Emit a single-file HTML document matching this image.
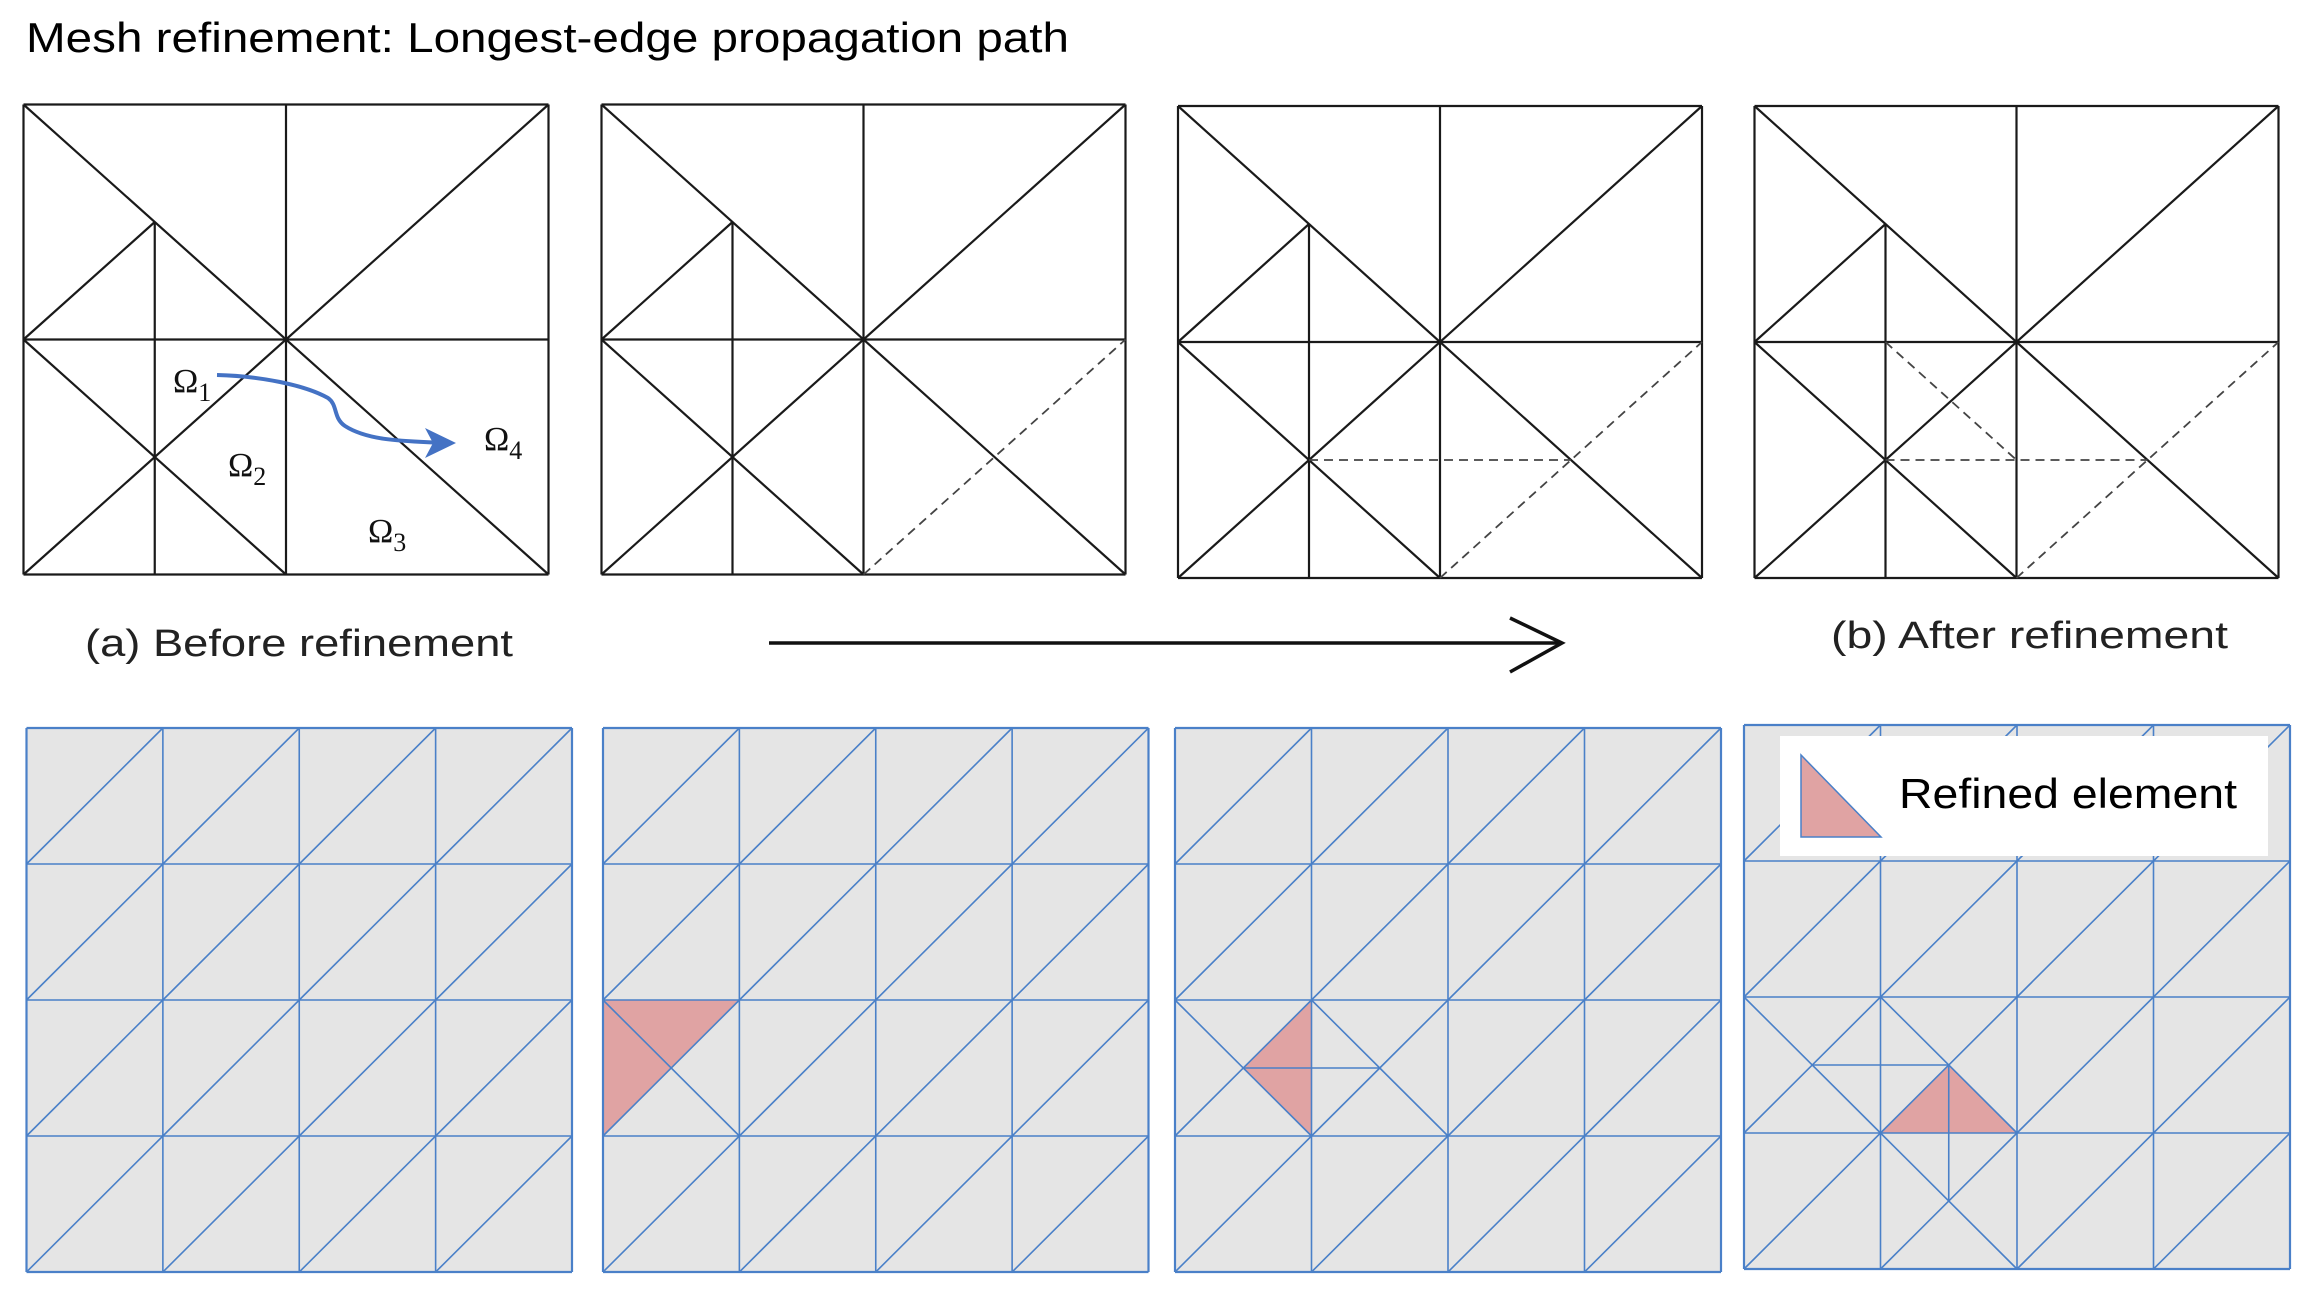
<!DOCTYPE html>
<html><head><meta charset="utf-8"><style>
html,body{margin:0;padding:0;background:#fff;}
svg{display:block;}
</style></head><body>
<svg id="fig" width="2306" height="1296" viewBox="0 0 2306 1296" xmlns="http://www.w3.org/2000/svg">
<text x="26" y="52" font-family="Liberation Sans, sans-serif" font-size="42" textLength="1043" lengthAdjust="spacingAndGlyphs" fill="#000">Mesh refinement: Longest-edge propagation path</text>
<g id="top"></g>
<g id="bottom"></g>
<g font-family="Liberation Serif, serif" fill="#111">
<text x="173" y="392" font-size="34">Ω<tspan font-size="26" dy="9">1</tspan></text>
<text x="228" y="476" font-size="34">Ω<tspan font-size="26" dy="9">2</tspan></text>
<text x="368" y="542" font-size="34">Ω<tspan font-size="26" dy="9">3</tspan></text>
<text x="484" y="450" font-size="34">Ω<tspan font-size="26" dy="9">4</tspan></text>
</g>
<path d="M217,375 C260,376 305,385 328,398 C338,405 333,418 345,426 C370,442 410,441 445,443" fill="none" stroke="#4472c4" stroke-width="4"/>
<path d="M456,443 L425,428 L433,443 L425,458 Z" fill="#4472c4"/>
<text x="85" y="656" font-family="Liberation Sans, sans-serif" font-size="38" textLength="428" lengthAdjust="spacingAndGlyphs" fill="#222">(a) Before refinement</text>
<text x="1831" y="648" font-family="Liberation Sans, sans-serif" font-size="38" textLength="397" lengthAdjust="spacingAndGlyphs" fill="#222">(b) After refinement</text>
<g stroke="#111" stroke-width="3.5" fill="none">
<line x1="769" y1="643" x2="1561" y2="643"/>
<polyline points="1510,618 1562,643 1510,672"/>
</g>
<g id="legend">
<rect x="1780" y="736" width="488" height="120" fill="#fff"/>
<polygon points="1801,755 1801,837 1881,837" fill="#e0a3a3" stroke="#4a80c8" stroke-width="1.5"/>
<text x="1899" y="808" font-family="Liberation Sans, sans-serif" font-size="42" textLength="338" lengthAdjust="spacingAndGlyphs" fill="#000">Refined element</text>
</g>
</svg>
<script>
const NS='http://www.w3.org/2000/svg';
const topPanels=[[23.5,104.5,525,470],[601.5,104.5,524,470],[1178,106,524,472],[1754.5,106,524,472]];
const topBase=[[0,0,1,0],[1,0,1,1],[1,1,0,1],[0,1,0,0],[0.5,0,0.5,1],[0,0.5,1,0.5],[0,0,1,1],[1,0,0,1],[0.25,0.25,0.25,1],[0,0.5,0.25,0.25],[0,0.5,0.5,1]];
const topDashed=[[],[[0.5,1,1,0.5]],[[0.5,1,1,0.5],[0.25,0.75,0.75,0.75]],[[0.5,1,1,0.5],[0.25,0.75,0.75,0.75],[0.25,0.5,0.5,0.75]]];
function mk(tag,attrs,parent){const e=document.createElementNS(NS,tag);for(const k in attrs)e.setAttribute(k,attrs[k]);parent.appendChild(e);return e;}
const topG=document.getElementById('top');
topPanels.forEach((p,i)=>{
 const g=mk('g',{},topG);
 
 
 const X=u=>p[0]+u*p[2],Y=v=>p[1]+v*p[3];
 topBase.forEach(s=>{const l=mk('line',{x1:X(s[0]),y1:Y(s[1]),x2:X(s[2]),y2:Y(s[3]),stroke:'#1a1a1a','stroke-width':2.2},g);
  
  });
 topDashed[i].forEach(s=>{const l=mk('line',{x1:X(s[0]),y1:Y(s[1]),x2:X(s[2]),y2:Y(s[3]),stroke:'#444','stroke-width':1.8,'stroke-dasharray':'9,6'},g);
  
  });
});
const botPanels=[[26.5,728,545.5,544],[603,728,545.5,544],[1175,728,546,544],[1744,725,546,544]];
const botExtra=[[],[[0,2,1,3]],[[0,2,1,3],[1,2,2,3],[0.5,2.5,1.5,2.5]],[[0,2,1,3],[1,2,2,3],[0.5,2.5,1.5,2.5],[1.5,2.5,1.5,3.5],[1,3,2,4]]];
const botRed=[null,[0,2,1,2,0,3],[1,2,0.5,2.5,1,3],[1,3,1.5,2.5,2,3]];
const botG=document.getElementById('bottom');
botPanels.forEach((p,i)=>{
 const g=mk('g',{},botG);
 
 
 const X=u=>p[0]+u/4*p[2],Y=v=>p[1]+v/4*p[3];
 mk('rect',{x:p[0],y:p[1],width:p[2],height:p[3],fill:'#e5e5e5'},g);
 const r=botRed[i];
 if(r){const t=mk('polygon',{points:[X(r[0]),Y(r[1]),X(r[2]),Y(r[3]),X(r[4]),Y(r[5])].join(','),fill:'#e0a3a3'},g);
  
  }
 const segs=[];
 for(let k=0;k<=4;k++){segs.push([k,0,k,4]);segs.push([0,k,4,k]);}
 for(let c=0;c<4;c++)for(let rr=0;rr<4;rr++)segs.push([c,rr+1,c+1,rr]);
 segs.concat(botExtra[i]).forEach(s=>{const l=mk('line',{x1:X(s[0]),y1:Y(s[1]),x2:X(s[2]),y2:Y(s[3]),stroke:'#4a80c8','stroke-width':(s[0]===s[2]&&(s[0]===0||s[0]===4))||(s[1]===s[3]&&(s[1]===0||s[1]===4))?2.2:1.6},g);
  
  });
});
document.getElementById('fig').appendChild(document.getElementById('legend'));
</script>
</body></html>
